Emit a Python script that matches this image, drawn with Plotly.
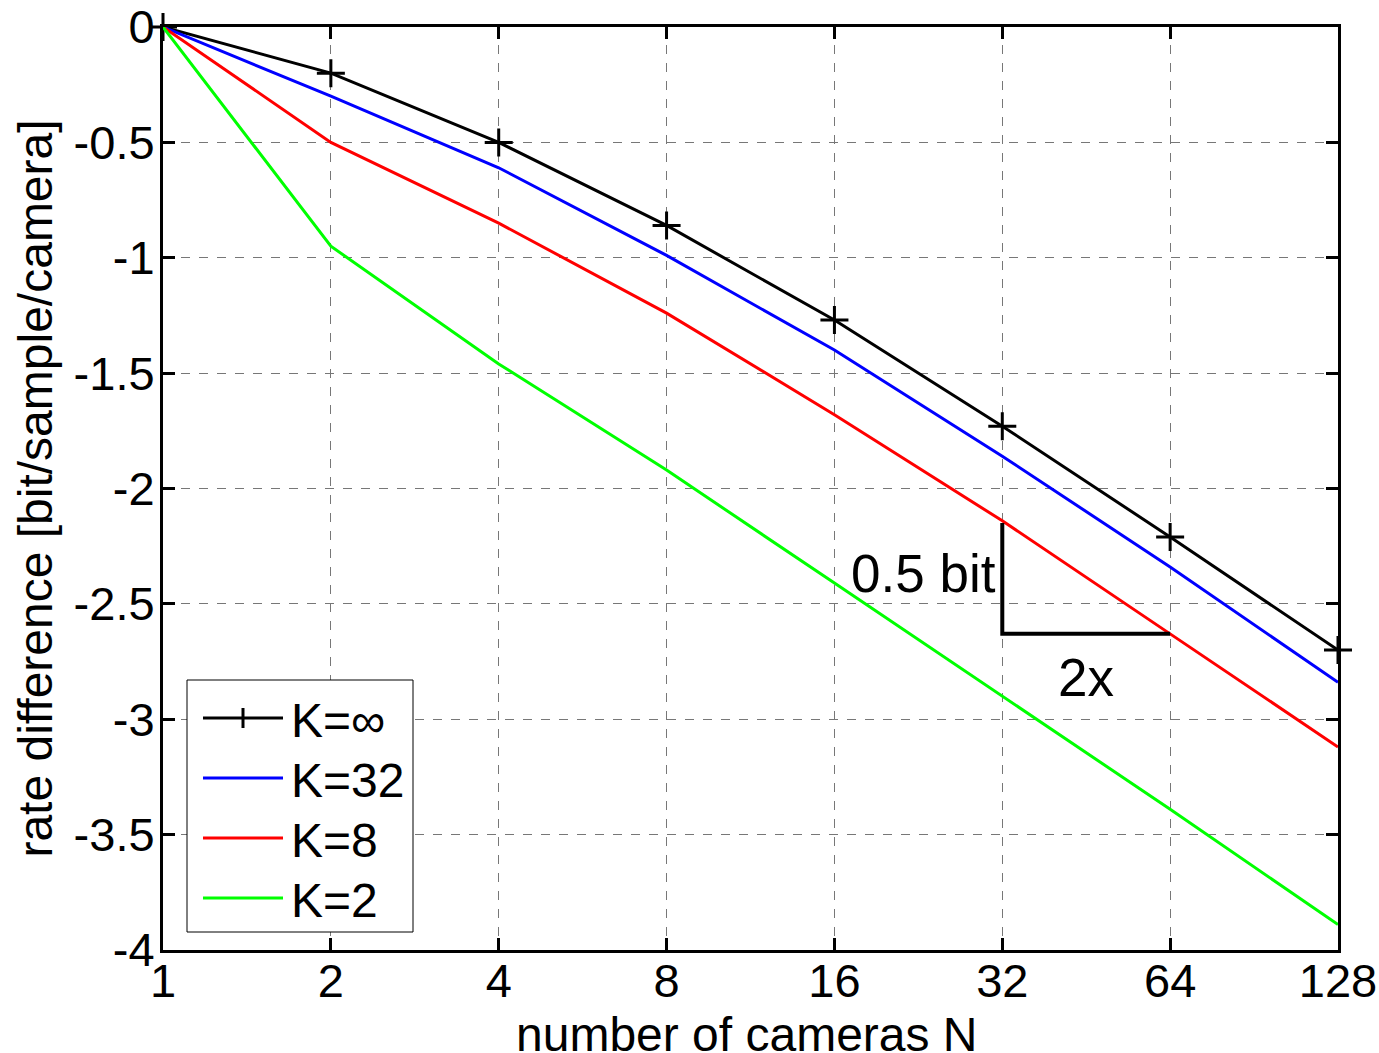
import math
import plotly.graph_objects as go

# ---- data ----
N = [1, 2, 4, 8, 16, 32, 64, 128]
k_inf = [0, -0.20, -0.50, -0.86, -1.27, -1.73, -2.21, -2.70]
k_32 = [0, -0.30, -0.61, -0.99, -1.40, -1.86, -2.34, -2.84]
k_8 = [0, -0.50, -0.85, -1.24, -1.68, -2.14, -2.63, -3.12]
k_2 = [0, -0.95, -1.46, -1.92, -2.41, -2.90, -3.39, -3.89]
series_names = ["K=\u221e", "K=32", "K=8", "K=2"]
series_colors = ["#000000", "#0000ff", "#ff0000", "#00ff00"]
y_ticks = [0, -0.5, -1, -1.5, -2, -2.5, -3, -3.5, -4]
y_tick_text = ["0", "-0.5", "-1", "-1.5", "-2", "-2.5", "-3", "-3.5", "-4"]
x_tick_text = ["1", "2", "4", "8", "16", "32", "64", "128"]
tri_x = [32, 32, 64]
tri_y = [-2.15, -2.63, -2.63]

FONT = "Arial, Liberation Sans, sans-serif"

fig = go.Figure()
all_series = [k_inf, k_32, k_8, k_2]
for i, (name, ys, col) in enumerate(zip(series_names, all_series, series_colors)):
    fig.add_trace(go.Scatter(
        x=N, y=ys, name=name,
        mode="lines+markers" if i == 0 else "lines",
        line=dict(color=col, width=3),
        marker=dict(symbol="cross-thin", size=20, line=dict(color=col, width=3)),
        cliponaxis=False, showlegend=False,
    ))

# slope triangle
fig.add_trace(go.Scatter(x=tri_x, y=tri_y, mode="lines",
                         line=dict(color="black", width=4), showlegend=False))

fig.add_annotation(x=math.log10(32), y=-2.37, xref="x", yref="y",
                   text="0.5 bit", showarrow=False, xanchor="right", xshift=-4,
                   font=dict(family=FONT, size=53, color="black"))
fig.add_annotation(x=math.log10(45.25), y=-2.82, xref="x", yref="y",
                   text="2x", showarrow=False,
                   font=dict(family=FONT, size=53, color="black"))

# ---- custom legend (paper coords) ----
W, H = 1379, 1053
L, R, T, B = 163, 41, 27, 103
pw, ph = W - L - R, H - T - B


def px(x):
    return (x - L) / pw


def py(y):
    return 1 - (y - T) / ph


shapes = [dict(type="rect", xref="paper", yref="paper",
               x0=px(187), x1=px(413), y0=py(932), y1=py(680),
               line=dict(color="black", width=1), fillcolor="white", layer="above")]
ys_leg = [718, 778, 838, 898]
for yl, name, col in zip(ys_leg, series_names, series_colors):
    shapes.append(dict(type="line", xref="paper", yref="paper",
                       x0=px(203), x1=px(283), y0=py(yl), y1=py(yl),
                       line=dict(color=col, width=3), layer="above"))
    fig.add_annotation(x=px(289), y=py(yl + 2), xref="paper", yref="paper",
                       text=name, showarrow=False, xanchor="left", yanchor="middle",
                       font=dict(family=FONT, size=48, color="black"))
# plus marker in legend
shapes.append(dict(type="line", xref="paper", yref="paper",
                   x0=px(243), x1=px(243), y0=py(708), y1=py(728),
                   line=dict(color="black", width=3), layer="above"))
fig.update_layout(shapes=shapes)

# x-axis title as annotation for exact placement
fig.add_annotation(x=px(747), y=py(1034), xref="paper", yref="paper",
                   text="number of cameras N", showarrow=False,
                   xanchor="center", yanchor="middle",
                   font=dict(family=FONT, size=48, color="black"))

axis_common = dict(
    showline=True, linecolor="black", linewidth=3, mirror="allticks",
    ticks="inside", ticklen=12, tickwidth=3, tickcolor="black",
    showgrid=True, gridcolor="#777777", griddash="dash", gridwidth=1,
    zeroline=False, automargin=False,
    tickfont=dict(family=FONT, size=47, color="black"),
    title_font=dict(family=FONT, size=48, color="black"),
)

fig.update_xaxes(type="log", range=[0, math.log10(128)], tickvals=N,
                 ticktext=x_tick_text, ticklabelstandoff=-12, **axis_common)
fig.update_yaxes(range=[-4, 0], tickvals=y_ticks, ticktext=y_tick_text,
                 ticklabelstandoff=-4,
                 title_text="rate difference [bit/sample/camera]", title_standoff=6,
                 **axis_common)

fig.update_layout(
    width=W, height=H,
    margin=dict(l=L, r=R, t=T, b=B),
    plot_bgcolor="white", paper_bgcolor="white",
    font=dict(family=FONT, color="black"),
)

fig.write_html("out.html", config={"displayModeBar": False},
               post_script="document.body.style.margin='0';document.body.style.overflow='hidden';")
